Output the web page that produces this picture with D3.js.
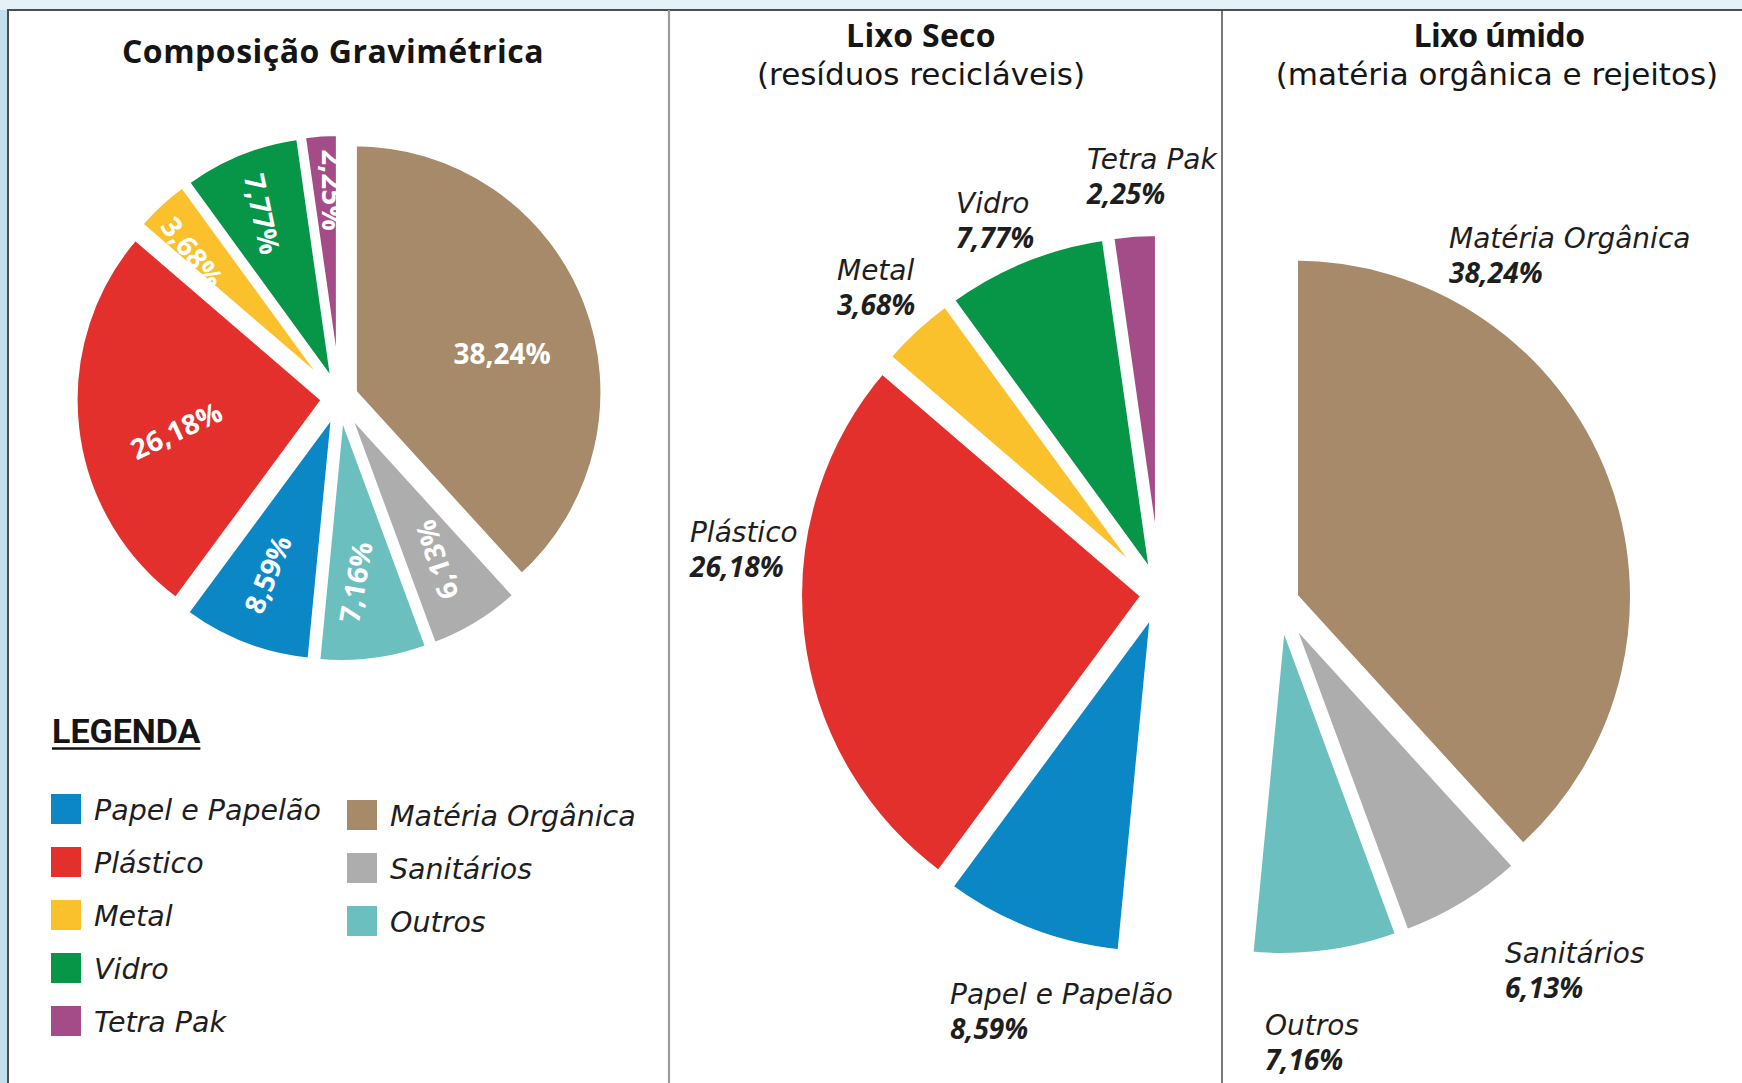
<!DOCTYPE html>
<html>
<head>
<meta charset="utf-8">
<script src="https://cdn.jsdelivr.net/npm/d3@7"></script>
<style>
  body { margin: 0; background: #ffffff; }
  svg { display: block; }
</style>
</head>
<body>
<svg id="chart" width="1742" height="1083"></svg>
<script>
// ---------------- DATA ----------------
const categories = ["Matéria Orgânica", "Sanitários", "Outros", "Papel e Papelão", "Plástico", "Metal", "Vidro", "Tetra Pak"];
const values     = [38.24, 6.13, 7.16, 8.59, 26.18, 3.68, 7.77, 2.25];
const colors     = ["#a68a69", "#adadad", "#6cbfbf", "#0b87c6", "#e3302c", "#fbc12d", "#079548", "#a34c87"];
const dryCategories = ["Papel e Papelão", "Plástico", "Metal", "Vidro", "Tetra Pak"];
const wetCategories = ["Matéria Orgânica", "Sanitários", "Outros"];
const legendCol1 = ["Papel e Papelão", "Plástico", "Metal", "Vidro", "Tetra Pak"];
const legendCol2 = ["Matéria Orgânica", "Sanitários", "Outros"];
const titleMain = "Composição Gravimétrica";
const titleDry = "Lixo Seco";
const subtitleDry = "(resíduos recicláveis)";
const titleWet = "Lixo úmido";
const subtitleWet = "(matéria orgânica e rejeitos)";
const legendTitle = "LEGENDA";

// ---------------- STYLE / LAYOUT ----------------
const W = 1742, H = 1083;
const pt = d3.formatLocale({decimal: ",", thousands: ".", grouping: [3], currency: ["R$", ""]});
const fmt = v => pt.format(".2f")(v) + "%";
const color = d3.scaleOrdinal().domain(categories).range(colors);
const rad = d => d * Math.PI / 180;

// label placement around pies (angle in degrees clockwise from top, radius factor)
const mainLabelStyle = {
  "Matéria Orgânica": {angle: 75.13,  rf: 0.621,  rot: 0},
  "Sanitários":       {angle: 149.26, rf: 0.701,  rot: -108},
  "Outros":           {angle: 175.44, rf: 0.686,  rot: -80},
  "Papel e Papelão":  {angle: 202.52, rf: 0.709,  rot: -68},
  "Plástico":         {angle: 258.44, rf: 0.6125, rot: -25},
  "Metal":            {angle: 314.7,  rf: 0.776,  rot: 52},
  "Vidro":            {angle: 337.38, rf: 0.745,  rot: 78},
  "Tetra Pak":        {angle: 358.4,  rf: 0.781,  rot: 90}
};
const dryLabelStyle = {
  "Tetra Pak":       {angle: 350.25, rf: 1.2572},
  "Vidro":           {angle: 331.83, rf: 1.260},
  "Metal":           {angle: 314.19, rf: 1.3134},
  "Plástico":        {angle: 276.31, rf: 1.3787},
  "Papel e Papelão": {angle: 207.12, rf: 1.3431}
};
const wetLabelStyle = {
  "Matéria Orgânica": {angle: 25.52,  rf: 1.1675},
  "Sanitários":       {angle: 148.07, rf: 1.2661},
  "Outros":           {angle: 181.98, rf: 1.2895}
};

const FONT_TITLE = "'Open Sans', sans-serif";
const FONT_BODY = "'DejaVu Sans', sans-serif";

// ---------------- DRAW ----------------
const svg = d3.select("#chart");

// background frame
svg.append("rect").attr("width", W).attr("height", H).attr("fill", "#e4f1f6");
svg.append("rect").attr("x", 0).attr("y", 10).attr("width", 8).attr("height", H - 10).attr("fill", "#c3dfe9");
svg.append("rect").attr("x", 8).attr("y", 10).attr("width", W - 8).attr("height", H - 10).attr("fill", "#ffffff");
svg.append("line").attr("x1", 7).attr("x2", W).attr("y1", 10).attr("y2", 10).attr("stroke", "#4d4d4d").attr("stroke-width", 2);
svg.append("line").attr("x1", 8).attr("x2", 8).attr("y1", 9).attr("y2", H).attr("stroke", "#4d4d4d").attr("stroke-width", 2);
svg.append("line").attr("x1", 669).attr("x2", 669).attr("y1", 10).attr("y2", H).attr("stroke", "#9c9c9c").attr("stroke-width", 2.2);
svg.append("line").attr("x1", 1222).attr("x2", 1222).attr("y1", 10).attr("y2", H).attr("stroke", "#3f3f3f").attr("stroke-width", 1.4);

// pie layout shared by all three charts
const pieData = categories.map((c, i) => ({cat: c, value: values[i]}));
const arcs = d3.pie().sort(null).value(d => d.value).startAngle(0).endAngle(2 * Math.PI)(pieData);
const mid = a => (a.startAngle + a.endAngle) / 2;

function drawPie(cfg) {
  const g = svg.append("g").attr("transform", `translate(${cfg.cx},${cfg.cy})`);
  const arc = d3.arc().innerRadius(0).outerRadius(cfg.r + cfg.stroke / 2);
  const shown = arcs.filter(a => cfg.cats.includes(a.data.cat));
  g.selectAll("path.slice").data(shown).join("path")
    .attr("class", "slice")
    .attr("d", arc)
    .attr("transform", a => {
      const [x, y] = d3.pointRadial(mid(a), cfg.explode);
      return `translate(${x},${y})`;
    })
    .attr("fill", a => color(a.data.cat))
    .attr("stroke", "#ffffff")
    .attr("stroke-width", cfg.stroke)
    .attr("stroke-linejoin", "round");
  return {g, shown};
}

// ---- Pie 1: Composição Gravimétrica
const p1 = {cx: 339.5, cy: 398, r: 246, explode: 16, stroke: 5, cats: categories};
const pie1 = drawPie(p1);
pie1.g.selectAll("text.val").data(pie1.shown).join("text")
  .attr("class", "val")
  .attr("transform", a => {
    const s = mainLabelStyle[a.data.cat];
    const [ex, ey] = d3.pointRadial(mid(a), p1.explode);
    const [x, y] = d3.pointRadial(rad(s.angle), s.rf * p1.r);
    return `translate(${x + ex},${y + ey}) rotate(${s.rot})`;
  })
  .attr("text-anchor", "middle")
  .attr("dominant-baseline", "central")
  .attr("fill", "#ffffff")
  .style("font-family", FONT_TITLE)
  .style("font-weight", 700)
  .style("font-size", "28px")
  .text(a => fmt(a.data.value));

// ---- outer labels
function outerLabels(pieObj, cfg, styleMap) {
  pieObj.shown.forEach(a => {
    const s = styleMap[a.data.cat];
    const [x, y] = d3.pointRadial(rad(s.angle), s.rf * cfg.r);
    const t = pieObj.g.append("text").attr("fill", "#1e1e1e");
    t.append("tspan").attr("x", x).attr("y", y)
      .style("font-family", FONT_BODY).style("font-style", "italic").style("font-size", "28px")
      .text(a.data.cat);
    t.append("tspan").attr("x", x).attr("y", y + 35)
      .style("font-family", FONT_TITLE).style("font-style", "italic").style("font-weight", 700).style("font-size", "28px")
      .text(fmt(a.data.value));
  });
}

// ---- Pie 2: Lixo Seco
const p2 = {cx: 1160, cy: 594, r: 343, explode: 15, stroke: 8, cats: dryCategories};
const pie2 = drawPie(p2);
outerLabels(pie2, p2, dryLabelStyle);

// ---- Pie 3: Lixo úmido
const p3 = {cx: 1280, cy: 602, r: 336, explode: 15, stroke: 8, cats: wetCategories};
const pie3 = drawPie(p3);
outerLabels(pie3, p3, wetLabelStyle);

// ---- Titles
function title(x, y, txt, opts) {
  return svg.append("text").attr("x", x).attr("y", y).attr("text-anchor", "middle")
    .attr("fill", "#151515")
    .style("font-family", opts.family)
    .style("font-weight", opts.weight)
    .style("font-size", opts.size + "px")
    .style("letter-spacing", (opts.ls || 0) + "px")
    .text(txt);
}
title(333, 63, titleMain, {family: FONT_TITLE, weight: 700, size: 32, ls: 0.5});
title(921, 47, titleDry, {family: FONT_TITLE, weight: 700, size: 32, ls: 0.3});
title(921, 85, subtitleDry, {family: FONT_BODY, weight: 400, size: 31});
title(1499, 47, titleWet, {family: FONT_TITLE, weight: 700, size: 32, ls: -0.6});
title(1497, 85, subtitleWet, {family: FONT_BODY, weight: 400, size: 31});

// ---- Legend
const lg = svg.append("g");
const lt = lg.append("text").attr("x", 52).attr("y", 743).attr("fill", "#151515")
  .style("font-family", "Roboto, sans-serif").style("font-weight", 700).style("font-size", "34px")
  .text(legendTitle);
const ltw = lt.node().getComputedTextLength();
lg.append("line").attr("x1", 52).attr("x2", 52 + ltw).attr("y1", 748.5).attr("y2", 748.5)
  .attr("stroke", "#151515").attr("stroke-width", 2.5);

function legendColumn(items, x, y0) {
  const y = d3.scaleLinear().domain([0, 1]).range([y0, y0 + 53]);
  const rows = lg.selectAll(null).data(items).join("g")
    .attr("transform", (d, i) => `translate(${x},${y(i)})`);
  rows.append("rect").attr("width", 30).attr("height", 30).attr("fill", d => color(d));
  rows.append("text").attr("x", 43).attr("y", 26).attr("fill", "#1e1e1e")
    .style("font-family", FONT_BODY).style("font-style", "italic").style("font-size", "28.5px")
    .text(d => d);
}
legendColumn(legendCol1, 51, 794);
legendColumn(legendCol2, 347, 800);
</script>
</body>
</html>
